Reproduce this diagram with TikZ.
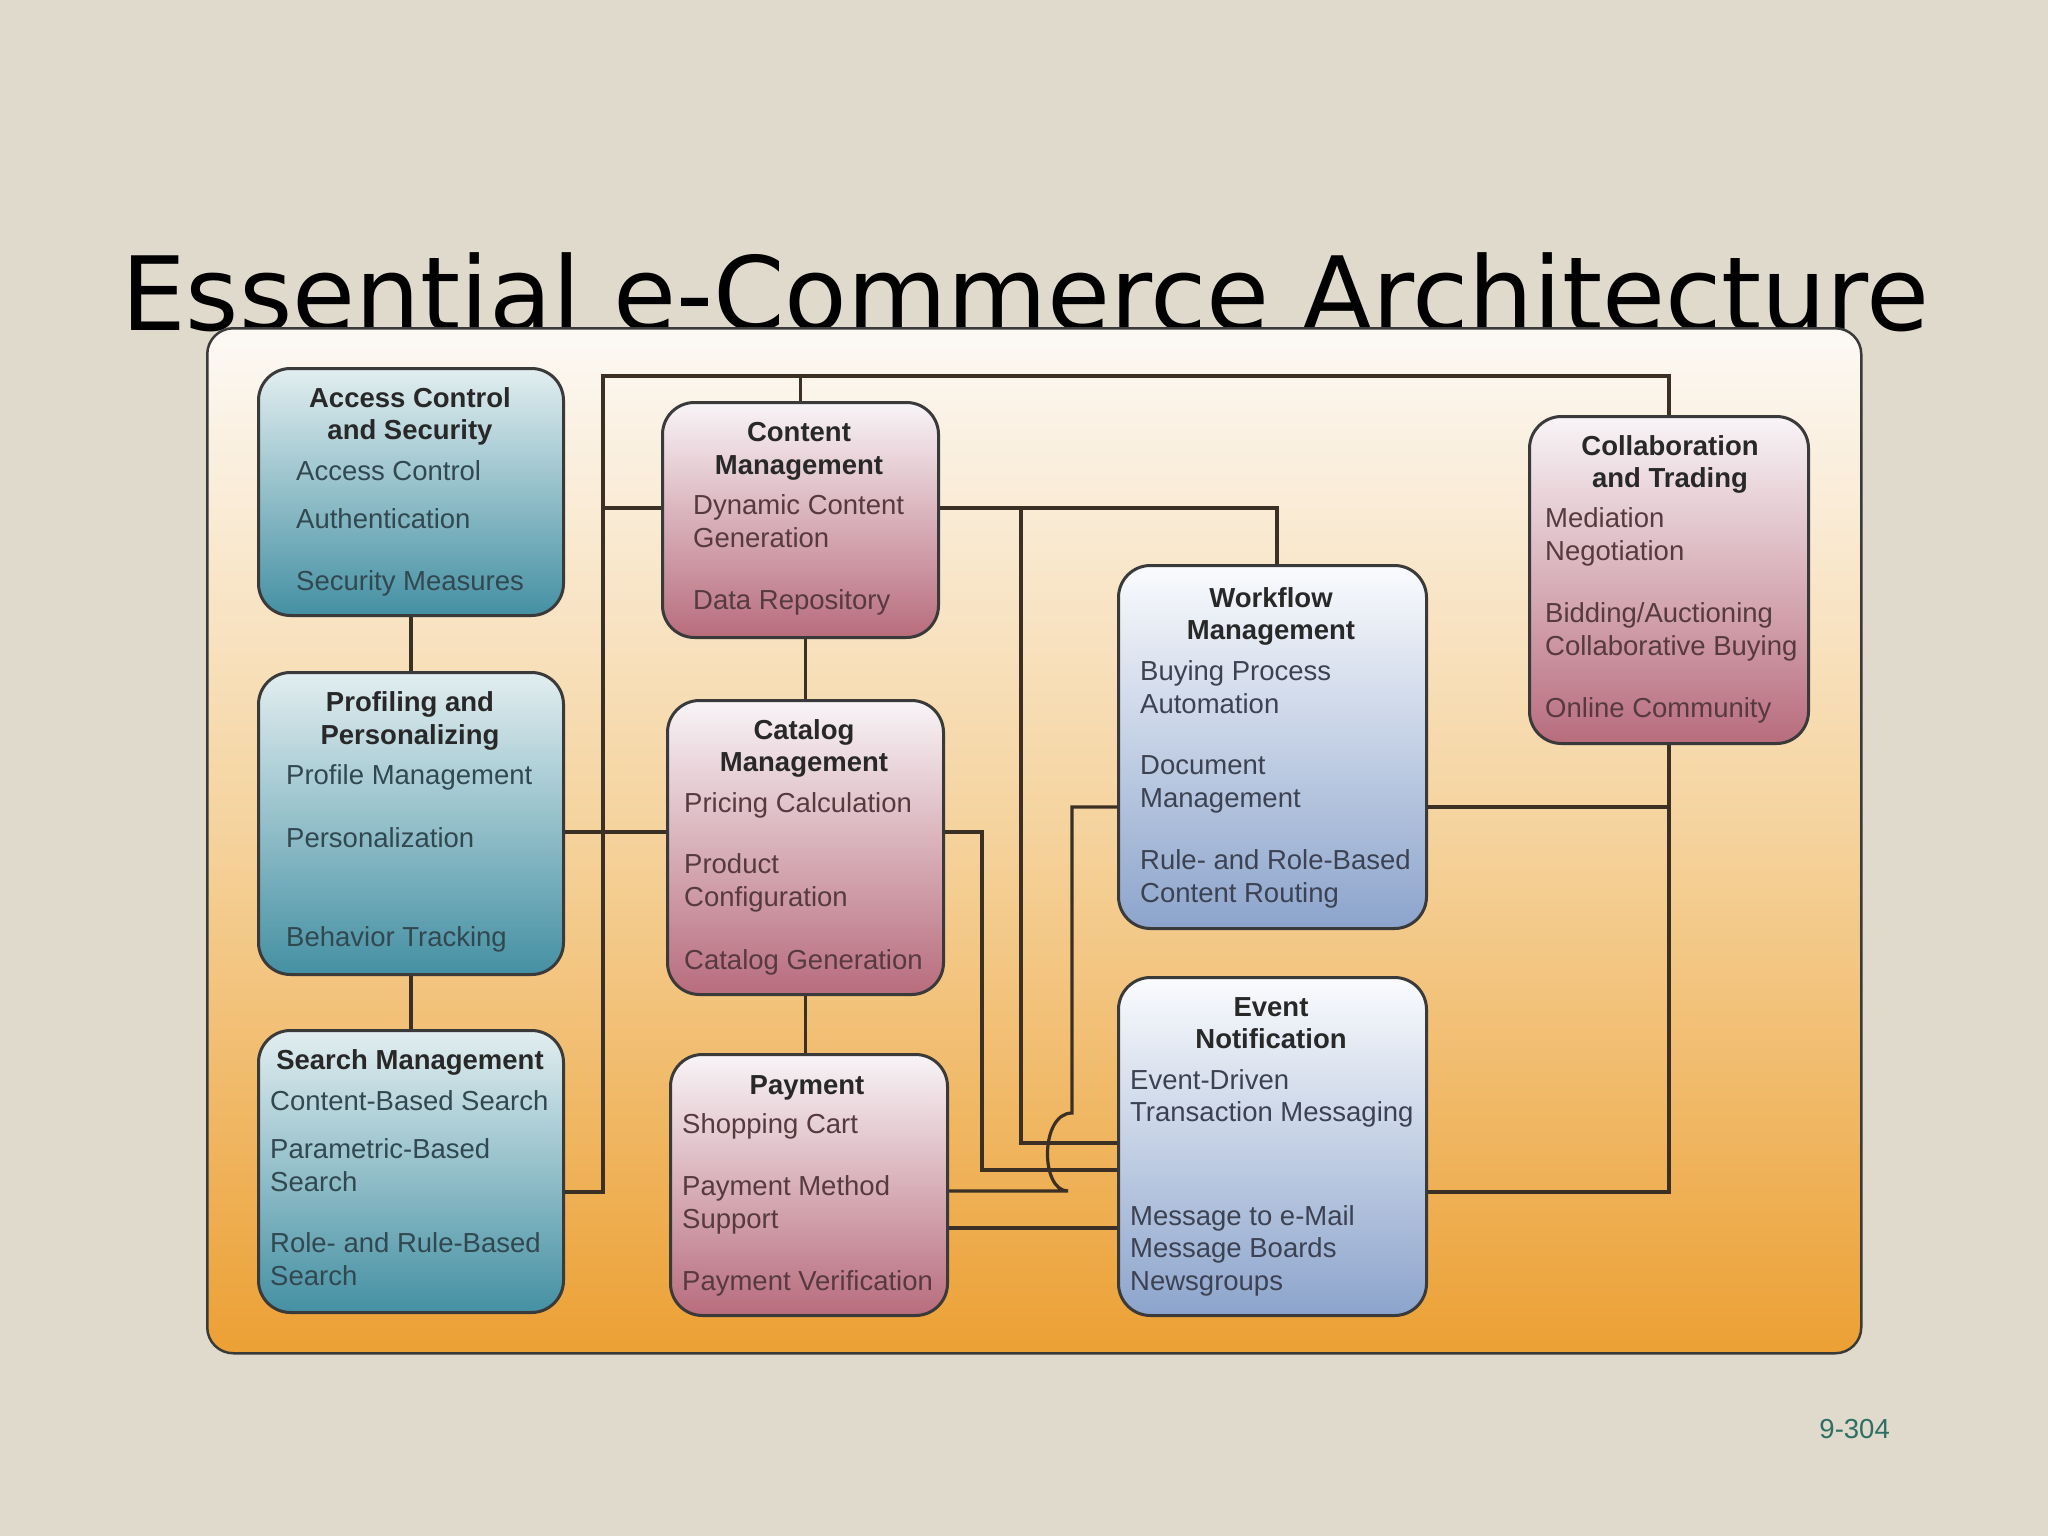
\documentclass[tikz,border=0pt]{standalone}
\usepackage{fontspec}
\setmainfont{Liberation Sans}
\newfontfamily\titlefont{DejaVu Sans}
\definecolor{bgc}{RGB}{224,218,204}
\definecolor{panT}{RGB}{252,249,245}
\definecolor{panM}{RGB}{245,210,155}
\definecolor{panB}{RGB}{236,160,52}
\definecolor{tealT}{RGB}{226,238,240}
\definecolor{tealB}{RGB}{68,144,163}
\definecolor{pinkT}{RGB}{248,244,247}
\definecolor{pinkB}{RGB}{184,108,124}
\definecolor{blueT}{RGB}{250,251,253}
\definecolor{blueB}{RGB}{140,164,204}
\definecolor{lineC}{RGB}{60,48,36}
\definecolor{boxC}{RGB}{58,58,58}
\definecolor{titC}{RGB}{40,40,40}
\definecolor{itTeal}{RGB}{50,72,80}
\definecolor{itPink}{RGB}{86,58,64}
\definecolor{itBlue}{RGB}{60,66,82}
\definecolor{pageNum}{RGB}{46,110,100}
\begin{document}
\begin{tikzpicture}[x=1pt,y=-1pt,
  box/.style={draw=boxC, line width=3pt, rounded corners=32pt, anchor=north west, inner sep=0pt},
  tealbox/.style={box, top color=tealT, bottom color=tealB},
  pinkbox/.style={box, top color=pinkT, bottom color=pinkB},
  bluebox/.style={box, top color=blueT, bottom color=blueB},
  ttl/.style={anchor=base, inner sep=0pt, text=titC, font=\bfseries\fontsize{27.5}{33}\selectfont},
  itm/.style={anchor=base west, inner sep=0pt, font=\fontsize{27.5}{33}\selectfont},
  conn/.style={draw=lineC, line width=3.2pt}
]
\fill[bgc] (0,0) rectangle (2048,1536);
\useasboundingbox (0,0) rectangle (2048,1536);
\node[anchor=base west, inner sep=0pt, font=\titlefont\fontsize{102.5}{110}\selectfont] (title) at (121,330) {Essential e-Commerce Architecture};
\node[draw=boxC, line width=2.5pt, rounded corners=26pt, anchor=north west, inner sep=0pt,
      minimum width=1654pt, minimum height=1025pt,
      top color=panT, bottom color=panB, middle color=panM] (panel) at (206,327) {};

% boxes
\node[tealbox, minimum width=305pt, minimum height=247pt] (acc) at (257,367) {};
\node[tealbox, minimum width=305pt, minimum height=302pt] (prof) at (257,671) {};
\node[tealbox, minimum width=305pt, minimum height=282pt] (srch) at (257,1029) {};
\node[pinkbox, minimum width=276pt, minimum height=235pt] (cont) at (661,401) {};
\node[pinkbox, minimum width=276pt, minimum height=294pt] (cat) at (666,699) {};
\node[pinkbox, minimum width=277pt, minimum height=261pt] (pay) at (669,1053) {};
\node[bluebox, minimum width=308pt, minimum height=363pt] (wf) at (1117,564) {};
\node[bluebox, minimum width=308pt, minimum height=338pt] (ev) at (1117,976) {};
\node[pinkbox, minimum width=279pt, minimum height=327pt] (coll) at (1528,415) {};

% helper coordinates
\coordinate (busL) at (603,376);
\coordinate (yS) at (0,1192);
\coordinate (yC) at (0,508);
\coordinate (yP) at (0,832);
\coordinate (yE1) at (0,1143);
\coordinate (yE2) at (0,1170);
\coordinate (yE3) at (0,1228);
\coordinate (yW) at (0,807);
\coordinate (xC) at (1021,0);
\coordinate (xA) at (982,0);
\coordinate (xWf) at (1277,0);
\coordinate (hopB) at (1068,1191);
\coordinate (hopT) at (1072,1113);

% connectors
\draw[conn] (acc.south) -- (prof.north);
\draw[conn] (prof.south) -- (srch.north);
\draw[conn] (srch.east |- yS) -| (busL) -| (cont.north);
\draw[conn] (cont.north |- busL) -| (coll.north);
\draw[conn] (cont.west |- yC) -- (busL |- yC);
\draw[conn] (prof.east |- yP) -- (cat.west |- yP);
\draw[conn] (cont.east |- yC) -| (xWf |- wf.north);
\draw[conn] (xC |- yC) |- (ev.west |- yE1);
\draw[conn] (cat.north |- cont.south) -- (cat.north);
\draw[conn] (cat.south) -- (cat.south |- pay.north);
\draw[conn] (cat.east |- yP) -| (xA |- yE2) -- (ev.west |- yE2);
\draw[conn] (pay.east |- hopB) -- (hopB) .. controls (1040,1191) and (1040,1113) .. (hopT) |- (wf.west |- yW);
\draw[conn] (pay.east |- yE3) -- (ev.west |- yE3);
\draw[conn] (wf.east |- yW) -- (coll.south |- yW);
\draw[conn] (coll.south) |- (ev.east |- yS);

% Access Control and Security
\node[ttl] (a0) at (410,407) {Access Control};
\node[ttl] (a1) at (410,439) {and Security};
\begin{scope}[every node/.append style={text=itTeal}]
\node[itm] (a2) at (296,480) {Access Control};
\node[itm] (a3) at (296,528) {Authentication};
\node[itm] (a4) at (296,590) {Security Measures};
\end{scope}

% Profiling
\node[ttl] (p0) at (410,711) {Profiling and};
\node[ttl] (p1) at (410,744) {Personalizing};
\begin{scope}[every node/.append style={text=itTeal}]
\node[itm] (p2) at (286,784) {Profile Management};
\node[itm] (p3) at (286,847) {Personalization};
\node[itm] (p4) at (286,946) {Behavior Tracking};
\end{scope}

% Search
\node[ttl] (s0) at (410,1069) {Search Management};
\begin{scope}[every node/.append style={text=itTeal}]
\node[itm] (s1) at (270,1110) {Content-Based Search};
\node[itm] (s2) at (270,1158) {Parametric-Based};
\node[itm] (s3) at (270,1191) {Search};
\node[itm] (s4) at (270,1252) {Role- and Rule-Based};
\node[itm] (s5) at (270,1285) {Search};
\end{scope}

% Content
\node[ttl] (c0) at (799,441) {Content};
\node[ttl] (c1) at (799,474) {Management};
\begin{scope}[every node/.append style={text=itPink}]
\node[itm] (c2) at (693,514) {Dynamic Content};
\node[itm] (c3) at (693,547) {Generation};
\node[itm] (c4) at (693,609) {Data Repository};
\end{scope}

% Catalog
\node[ttl] (k0) at (804,739) {Catalog};
\node[ttl] (k1) at (804,771) {Management};
\begin{scope}[every node/.append style={text=itPink}]
\node[itm] (k2) at (684,812) {Pricing Calculation};
\node[itm] (k3) at (684,873) {Product};
\node[itm] (k4) at (684,906) {Configuration};
\node[itm] (k5) at (684,969) {Catalog Generation};
\end{scope}

% Payment
\node[ttl] (y0) at (807,1094) {Payment};
\begin{scope}[every node/.append style={text=itPink}]
\node[itm] (y1) at (682,1133) {Shopping Cart};
\node[itm] (y2) at (682,1195) {Payment Method};
\node[itm] (y3) at (682,1228) {Support};
\node[itm] (y4) at (682,1290) {Payment Verification};
\end{scope}

% Workflow
\node[ttl] (w0) at (1271,607) {Workflow};
\node[ttl] (w1) at (1271,639) {Management};
\begin{scope}[every node/.append style={text=itBlue}]
\node[itm] (w2) at (1140,680) {Buying Process};
\node[itm] (w3) at (1140,713) {Automation};
\node[itm] (w4) at (1140,774) {Document};
\node[itm] (w5) at (1140,807) {Management};
\node[itm] (w6) at (1140,869) {Rule- and Role-Based};
\node[itm] (w7) at (1140,902) {Content Routing};
\end{scope}

% Event
\node[ttl] (e0) at (1271,1016) {Event};
\node[ttl] (e1) at (1271,1048) {Notification};
\begin{scope}[every node/.append style={text=itBlue}]
\node[itm] (e2) at (1130,1089) {Event-Driven};
\node[itm] (e3) at (1130,1121) {Transaction Messaging};
\node[itm] (e4) at (1130,1225) {Message to e-Mail};
\node[itm] (e5) at (1130,1257) {Message Boards};
\node[itm] (e6) at (1130,1290) {Newsgroups};
\end{scope}

% Collaboration
\node[ttl] (l0) at (1670,455) {Collaboration};
\node[ttl] (l1) at (1670,487) {and Trading};
\begin{scope}[every node/.append style={text=itPink}]
\node[itm] (l2) at (1545,527) {Mediation};
\node[itm] (l3) at (1545,560) {Negotiation};
\node[itm] (l4) at (1545,622) {Bidding/Auctioning};
\node[itm] (l5) at (1545,655) {Collaborative Buying};
\node[itm] (l6) at (1545,717) {Online Community};
\end{scope}

\node[anchor=base east, inner sep=0pt, text=pageNum, font=\fontsize{27.5}{33}\selectfont] (pg) at (1890,1438) {9-304};
\end{tikzpicture}
\end{document}
